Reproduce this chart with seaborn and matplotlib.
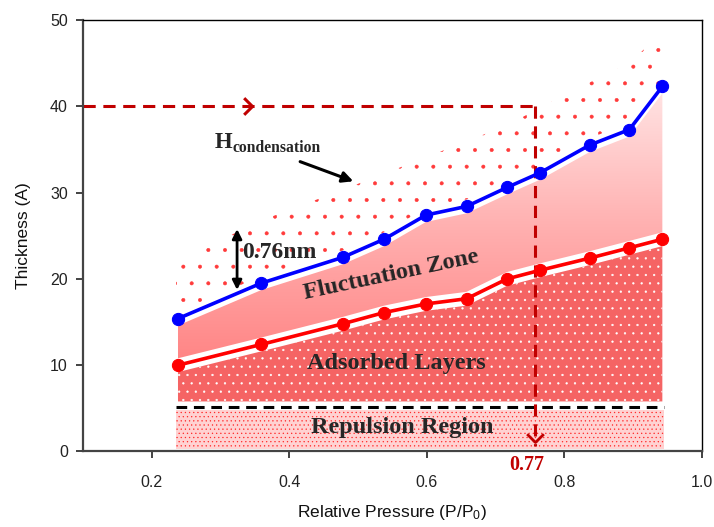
import numpy as np
import pandas as pd
import matplotlib
matplotlib.use("Agg")
import matplotlib.pyplot as plt
import seaborn as sns
from matplotlib.path import Path
from matplotlib.colors import LinearSegmentedColormap

# ---------------- data ----------------
pressure = [0.238, 0.359, 0.478, 0.538, 0.599, 0.658, 0.717, 0.765, 0.837, 0.895, 0.943]
h_blue = [15.4, 19.5, 22.5, 24.6, 27.4, 28.4, 30.6, 32.3, 35.5, 37.3, 42.3]
h_red = [10.0, 12.4, 14.8, 16.1, 17.1, 17.7, 20.0, 21.0, 22.4, 23.6, 24.6]
# region outlines
region_x = [0.235, 0.945]
hcond_x = [0.235, 0.36, 0.50, 0.73, 0.80, 0.89, 0.945]
hcond_top = [22.0, 26.8, 31.0, 38.2, 41.5, 44.6, 48.8]
repulsion_top = 4.8
repulsion_line = 5.1
adsorbed_bottom = 5.8
gap = 0.8
p_cond = 0.757
h_cond = 40
xticks = [0.2, 0.4, 0.6, 0.8, 1.0]
yticks = [0, 10, 20, 30, 40, 50]

sns.set_style("ticks")
plt.rcParams["font.family"] = ["Liberation Sans", "DejaVu Sans"]
plt.rcParams["mathtext.fontset"] = "custom"
plt.rcParams["mathtext.rm"] = "Liberation Sans"
plt.rcParams["mathtext.it"] = "Liberation Sans:italic"
plt.rcParams["hatch.linewidth"] = 0.4

fig = plt.figure(figsize=(7.14, 5.27), dpi=100)
ax = fig.add_axes([0.1165, 0.1433, 0.866, 0.8187])

px = np.array(pressure)
pb = np.array(h_blue)
pr = np.array(h_red)
SERIF = ["Liberation Serif", "DejaVu Serif"]

# repulsion region
ax.fill_between(region_x, [0.3, 0.3], [repulsion_top] * 2, facecolor="#FFD2D2",
                edgecolor="#FF2A2A", hatch="....", linewidth=0, zorder=1)
ax.plot(region_x, [repulsion_line] * 2, color="black", lw=2.2, dashes=(3.5, 2.2), zorder=2)

# adsorbed layers
ax.fill_between(px, adsorbed_bottom, pr - gap, facecolor="#F56464",
                edgecolor="white", hatch="..", linewidth=0, zorder=1)

# fluctuation zone (gradient)
poly = ax.fill_between(px, pr + gap, pb - gap, facecolor="none", linewidth=0, zorder=1)
cmap = LinearSegmentedColormap.from_list("pinkgrad", ["#FF8484", "#FFB0B0", "#FFE4E4"])
grad = np.linspace(0, 1, 256).reshape(-1, 1)
im = ax.imshow(grad, extent=[0.23, 0.95, 10, 42], origin="lower", cmap=cmap,
               aspect="auto", zorder=1)
im.set_clip_path(poly.get_paths()[0], transform=ax.transData)

# condensation region (sparse dots)
top_interp = np.interp(px, hcond_x, hcond_top)
ax.fill_between(px, pb + gap, top_interp, facecolor="none", edgecolor="#FF3A3A",
                hatch=".", linewidth=0, zorder=1)
ax.fill_between([0.235, px[0]], [pb[0] + gap] * 2, [hcond_top[0]] * 2, facecolor="none",
                edgecolor="#FF3A3A", hatch=".", linewidth=0, zorder=1)

# condensation dashed guide lines
dred = "#C00000"
ax.plot([0.1, p_cond], [h_cond, h_cond], color=dred, lw=2.2, dashes=(4, 2.5), zorder=2,
        clip_on=False)
ax.plot([p_cond, p_cond], [h_cond, 0.6], color=dred, lw=2.2, dashes=(4, 2.5), zorder=2)
chev_r = Path([(-1, 1), (0, 0), (-1, -1)], [Path.MOVETO, Path.LINETO, Path.LINETO])
chev_d = Path([(-1, 1), (0, 0), (1, 1)], [Path.MOVETO, Path.LINETO, Path.LINETO])
ax.plot([0.345], [h_cond], marker=chev_r, ms=12, mfc="none", mec=dred, mew=2.2, zorder=3)
ax.plot([p_cond], [1.1], marker=chev_d, ms=12, mfc="none", mec=dred, mew=2.0, zorder=3)

# data lines
df = pd.DataFrame({"p": pressure, "blue": h_blue, "red": h_red})
sns.lineplot(data=df, x="p", y="blue", ax=ax, color="#0000FF", lw=2.6, marker="o",
             markersize=8.8, markeredgecolor="#0000FF", zorder=4)
sns.lineplot(data=df, x="p", y="red", ax=ax, color="#FF0000", lw=2.6, marker="o",
             markersize=8.8, markeredgecolor="#FF0000", zorder=4)

# annotations
ax.text(0.746, -1.6, "0.77", color=dred, fontsize=14.5, fontweight="bold", family=SERIF,
        ha="center", va="center", clip_on=False)
ax.text(0.2916, 35.2, "H", fontsize=16.5, fontweight="bold", family=SERIF, ha="left",
        va="baseline", zorder=5)
ax.text(0.318, 34.7, "condensation", fontsize=11.3, fontweight="bold", family=SERIF,
        ha="left", va="baseline", zorder=5)
ax.annotate("", xy=(0.497, 31.2), xytext=(0.412, 33.7),
            arrowprops=dict(arrowstyle="-|>", color="black", lw=2.2, mutation_scale=16),
            zorder=5)
ax.annotate("", xy=(0.324, 18.4), xytext=(0.324, 26.1),
            arrowprops=dict(arrowstyle="<|-|>", color="black", lw=2.0, mutation_scale=14),
            zorder=5)
ax.text(0.332, 23.1, "0.76nm", fontsize=17, fontweight="bold", family=SERIF,
        ha="left", va="center", zorder=5)
ax.text(0.549, 20.5, "Fluctuation Zone", fontsize=17.5, fontweight="bold", family=SERIF,
        ha="center", va="center", rotation=12, zorder=5)
ax.text(0.556, 10.2, "Adsorbed Layers", fontsize=17.5, fontweight="bold", family=SERIF,
        ha="center", va="center", zorder=5)
ax.text(0.564, 2.8, "Repulsion Region", fontsize=17.5, fontweight="bold", family=SERIF,
        ha="center", va="center", zorder=5)

# axes
ax.set_xlim(0.1, 1.0)
ax.set_ylim(0, 50)
ax.set_xticks(xticks)
ax.set_xticklabels([f"{t:.1f}" for t in xticks])
ax.set_yticks(yticks)
ax.set_yticklabels([str(t) for t in yticks])
ax.tick_params(axis="x", direction="out", length=5, width=1.2, pad=12, labelsize=11.5,
               colors="#222222")
ax.tick_params(axis="y", direction="out", length=5, width=1.2, pad=6, labelsize=11.5,
               colors="#222222")
ax.set_xlabel("Relative Pressure (P/P$_0$)", fontsize=12.5, labelpad=9, color="#111111")
ax.set_ylabel("Thickness (A)", fontsize=12.5, labelpad=14, color="#111111")
for s in ["left", "bottom"]:
    ax.spines[s].set_linewidth(1.6)
    ax.spines[s].set_color("#444444")
for s in ["top", "right"]:
    ax.spines[s].set_linewidth(1.0)
    ax.spines[s].set_color("black")
    ax.spines[s].set_visible(True)
ax.grid(False)
ax.set_facecolor("white")

fig.savefig("out.png", dpi=100, facecolor="white")
